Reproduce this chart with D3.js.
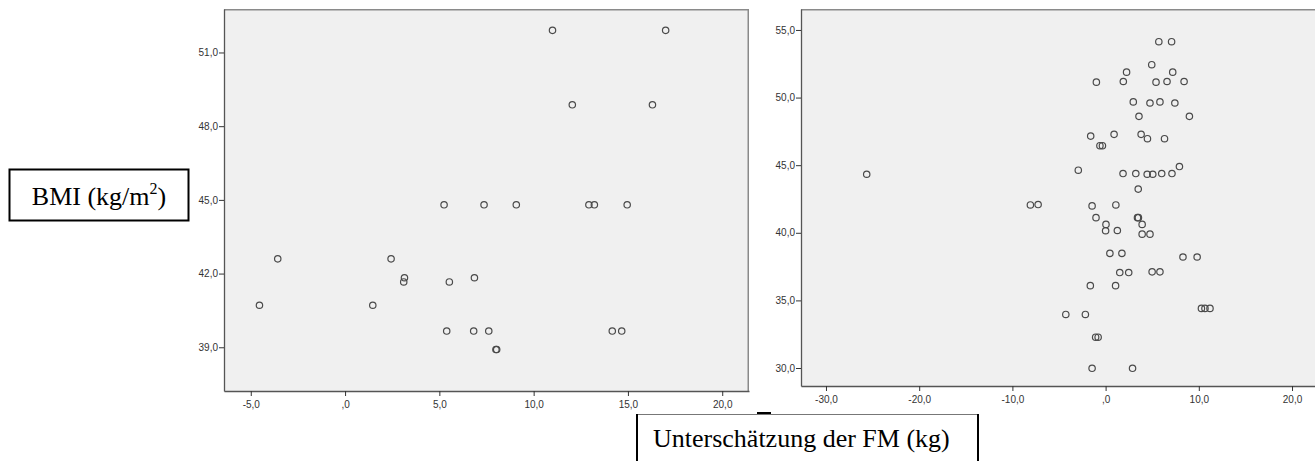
<!DOCTYPE html>
<html>
<head>
<meta charset="utf-8">
<script src="https://cdn.jsdelivr.net/npm/d3@7"></script>
<style>
  html, body { margin: 0; padding: 0; background: #ffffff; }
  svg { display: block; }
</style>
</head>
<body>
<svg id="chart" width="1315" height="461"></svg>
<script>
// Left panel: underestimation of fat mass (kg) vs BMI
const leftX = [11.0, 17.0, 12.05, 16.3,
  5.25, 7.37, 9.08, 12.93, 13.22, 14.96,
  -3.57, 2.44,
  3.15, 6.86,
  3.11, 5.53,
  -4.54, 1.47,
  5.39, 6.82, 7.62, 14.17, 14.67,
  8.0, 8.04];
const leftY = [51.9, 51.9, 48.87, 48.87,
  44.8, 44.8, 44.8, 44.8, 44.8, 44.8,
  42.6, 42.6,
  41.83, 41.83,
  41.66, 41.66,
  40.71, 40.71,
  39.66, 39.66, 39.66, 39.66, 39.66,
  38.91, 38.91];

// Right panel
const rightX = [5.71, 7.08, 4.95, 2.25, 7.20, -0.99, 1.90, 5.41, 6.59, 8.42,
  2.97, 4.76, 5.83, 7.43, 3.58, 8.99, -1.60, 0.91, 3.81, 4.49, 6.32, -0.61, -0.34,
  -25.63, -2.93, 1.87, 3.24, 4.46, 5.06, 6.02, 7.12, 7.92, 3.50,
  -8.07, -7.24, -1.45, 1.10, -1.03, 3.42, 3.52, 3.92, 0.04, 0.0, 1.26, 3.92, 4.76,
  0.46, 1.75, 8.30, 9.82, 1.52, 2.48, 4.99, 5.83, -1.64, 1.07,
  -4.27, -2.17, -1.07, -0.80, 10.28, 10.66, 11.20, -1.45, 2.89];
const rightY = [54.13, 54.13, 52.43, 51.88, 51.88, 51.14, 51.19, 51.14, 51.19, 51.19,
  49.68, 49.60, 49.68, 49.60, 48.61, 48.61, 47.15, 47.28, 47.28, 46.96, 46.96, 46.44, 46.44,
  44.33, 44.63, 44.38, 44.38, 44.33, 44.33, 44.38, 44.38, 44.90, 43.23,
  42.06, 42.09, 41.99, 42.06, 41.12, 41.12, 41.12, 40.62, 40.62, 40.15, 40.17, 39.90, 39.90,
  38.48, 38.48, 38.21, 38.21, 37.06, 37.06, 37.11, 37.11, 36.09, 36.09,
  33.96, 33.96, 32.28, 32.28, 34.41, 34.41, 34.41, 29.98, 29.98];

// Tick values
const leftXTicks = [-5, 0, 5, 10, 15, 20];
const leftYTicks = [39, 42, 45, 48, 51];
const rightXTicks = [-30, -20, -10, 0, 10, 20];
const rightYTicks = [30, 35, 40, 45, 50, 55];

// Titles
const yTitle = "BMI (kg/m";
const xTitle = "Unterschätzung der FM (kg)";

// Decimal comma format: ",0", "5,0", "-5,0"
function fmt(d) {
  const a = Math.abs(d);
  const s = a === 0 ? ",0" : a.toFixed(1).replace(".", ",");
  return (d < 0 ? "-" : "") + s;
}

const svg = d3.select("#chart");

function panel(cfg) {
  const { x0, x1, y0, y1, xDom, yDom, xs, ys, xTicks, yTicks } = cfg;
  const x = d3.scaleLinear().domain(xDom).range([x0, x1]);
  const y = d3.scaleLinear().domain(yDom).range([y1, y0]);
  const g = svg.append("g");

  g.append("rect")
    .attr("x", x0).attr("y", y0)
    .attr("width", x1 - x0).attr("height", y1 - y0)
    .attr("fill", "#f0f0f0");

  // top and right frame
  g.append("path")
    .attr("d", `M${x0},${y0 + 0.75}H${x1 - 0.75}V${y1}`)
    .attr("fill", "none").attr("stroke", "#8a8a8a").attr("stroke-width", 1.5);

  const xAxis = g.append("g")
    .attr("transform", `translate(0,${y1})`)
    .call(d3.axisBottom(x).tickValues(xTicks).tickFormat(fmt).tickSize(5).tickSizeOuter(0));
  const yAxis = g.append("g")
    .attr("transform", `translate(${x0},0)`)
    .call(d3.axisLeft(y).tickValues(yTicks).tickFormat(fmt).tickSize(5).tickSizeOuter(0));

  [xAxis, yAxis].forEach(a => {
    a.select(".domain").attr("stroke", "#555").attr("stroke-width", 1.3);
    a.selectAll(".tick line").attr("stroke", "#333").attr("stroke-width", 1);
    a.selectAll(".tick text")
      .attr("fill", "#333")
      .style("font-family", "'Liberation Sans', Arial, sans-serif")
      .style("font-size", "10px");
  });
  xAxis.selectAll(".tick text").attr("dy", "0.9em");
  yAxis.selectAll(".tick text").attr("x", -6);

  g.append("g").selectAll("circle")
    .data(xs.map((v, i) => [v, ys[i]]))
    .join("circle")
    .attr("cx", d => x(d[0]))
    .attr("cy", d => y(d[1]))
    .attr("r", 3.2)
    .attr("fill", "none")
    .attr("stroke", "#4a4a4a")
    .attr("stroke-width", 1.2);
}

panel({
  x0: 224, x1: 749, y0: 9, y1: 391,
  xDom: [-6.42, 21.42], yDom: [37.22, 52.77],
  xs: leftX, ys: leftY, xTicks: leftXTicks, yTicks: leftYTicks
});

panel({
  x0: 801, x1: 1317, y0: 9, y1: 386,
  xDom: [-32.68, 22.68], yDom: [28.67, 56.55],
  xs: rightX, ys: rightY, xTicks: rightXTicks, yTicks: rightYTicks
});

// BMI label box
const serif = "'Liberation Serif', 'Times New Roman', serif";
svg.append("rect")
  .attr("x", 9.5).attr("y", 169.5).attr("width", 179).attr("height", 51)
  .attr("fill", "#fff").attr("stroke", "#000").attr("stroke-width", 2);
const yt = svg.append("text")
  .attr("x", 99).attr("y", 205)
  .attr("text-anchor", "middle")
  .style("font-family", serif).style("font-size", "26px").attr("fill", "#000");
yt.append("tspan").text(yTitle);
yt.append("tspan").attr("dy", -11).style("font-size", "16px").text("2");
yt.append("tspan").attr("dy", 11).text(")");

// x title box
const bx0 = 637, bx1 = 978;
svg.append("line").attr("x1", bx0).attr("x2", bx1).attr("y1", 414.5).attr("y2", 414.5)
  .attr("stroke", "#777").attr("stroke-width", 1);
svg.append("line").attr("x1", bx0).attr("x2", bx0).attr("y1", 414).attr("y2", 470)
  .attr("stroke", "#000").attr("stroke-width", 2);
svg.append("line").attr("x1", bx1).attr("x2", bx1).attr("y1", 414).attr("y2", 470)
  .attr("stroke", "#000").attr("stroke-width", 2);
svg.append("line").attr("x1", 757).attr("x2", 771).attr("y1", 413).attr("y2", 413)
  .attr("stroke", "#000").attr("stroke-width", 2);
svg.append("text")
  .attr("x", 653).attr("y", 447)
  .style("font-family", serif).style("font-size", "26px").attr("fill", "#000")
  .text(xTitle);
</script>
</body>
</html>
